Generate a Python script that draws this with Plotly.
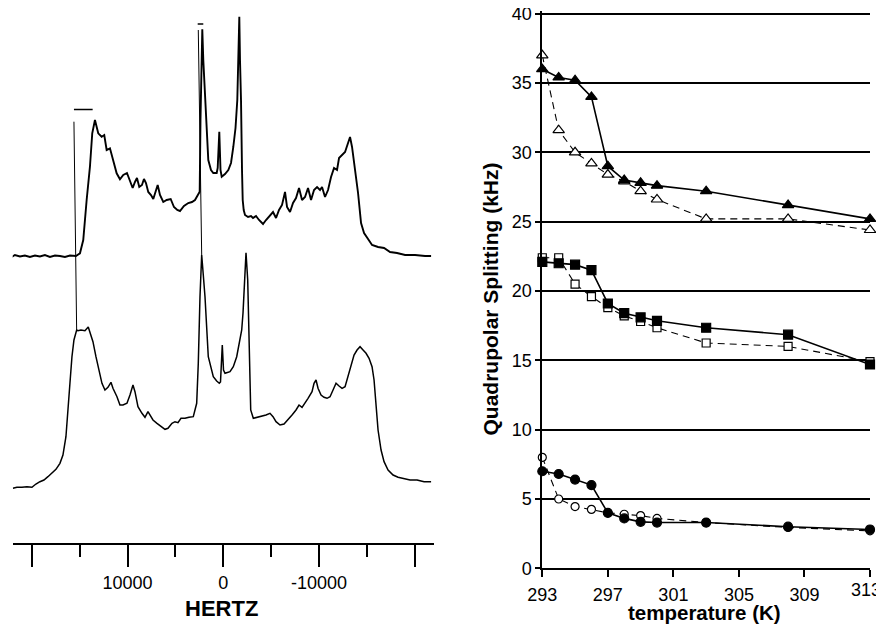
import plotly.graph_objects as go

# ---------------- Left panel: 2H NMR spectra (HERTZ vs arbitrary intensity) ----------------
top_hz = [22100, 21770, 21245, 20722, 20200, 19677, 19155, 18632, 18110, 17587, 17065, 16542, 16020, 15393,
          14975, 14630, 14275, 13930, 13690, 13407, 13063, 12707, 12436, 12185, 11840, 11495, 11140, 10795,
          10450, 10063, 9750, 9468, 9227, 9018, 8778, 8496, 8287, 8078, 7838, 7555, 7315, 7106, 6855, 6615,
          6270, 5915, 5497, 5152, 4807, 4525, 4107, 3658, 3271, 2957, 2696, 2466, 2383, 2278, 2195, 2090,
          1912, 1735, 1568, 1285, 1045, 690, 585, 418, 293, 167, -178, -523, -805, -1045, -1275, -1463,
          -1568, -1672, -1745, -1850, -1954, -2027, -2132, -2268, -2581, -2895, -3104, -3417, -3731, -4149,
          -4462, -4880, -5194, -5507, -5821, -6134, -6448, -6657, -6970, -7284, -7597, -7911, -8224, -8538,
          -8851, -9165, -9478, -9792, -10105, -10314, -10628, -10941, -11255, -11568, -11882, -12091, -12404,
          -12718, -13031, -13240, -13449, -13763, -14076, -14390, -14703, -15121, -15539, -16166, -16793,
          -17420, -18152, -18988, -20033, -21078, -21705]
top_int = [286, 288, 286.5, 287.5, 286, 287.5, 286.5, 288, 286, 287.5, 287, 286, 287.5, 287,
           289.7, 303, 343, 376.3, 409.7, 423, 409.7, 406.3, 408, 393, 394.7, 383, 369.7, 363.7,
           368, 370, 361, 355, 361, 365, 356, 358, 364, 360, 351, 348, 344, 350, 358, 348,
           341, 343, 344, 336, 333, 332, 337, 340, 341, 343, 347, 351.3, 423, 493, 513.7, 483,
           443, 408, 383, 373, 370, 370, 375, 411.3, 373, 366.3, 369, 373, 380, 396, 415, 443,
           483, 526.3, 483, 443, 373, 343, 333, 328, 326, 327, 325, 327, 323, 319,
           323, 327, 331, 325, 333, 338, 351, 336, 331, 340, 345, 355, 343, 346,
           355, 343, 353, 356, 353, 356, 346, 353, 366, 375, 373, 385, 388,
           391, 400, 406, 396, 373, 350, 320, 310, 304, 298, 296, 295,
           291, 290, 288, 288, 287, 287]

bot_hz = [21976, 21558, 21036, 20513, 19991, 19573, 19155, 18737, 18319, 17901, 17483, 17065, 16751, 16438,
          16229, 16020, 15811, 15602, 15320, 15184, 14870, 14452, 14108, 13930, 13616, 13303, 12989, 12676,
          12362, 12049, 11735, 11526, 11108, 10795, 10481, 10063, 9750, 9436, 9227, 8914, 8496, 8182, 7869,
          7660, 7346, 6928, 6510, 6092, 5779, 5361, 5047, 4734, 4420, 4002, 3584, 3135, 2780, 2613, 2435,
          2257, 2090, 1912, 1568, 1045, 690, 418, 293, 105, -21, -178, -700, -1045, -1400, -1641, -1923,
          -2059, -2195, -2372, -2550, -2717, -2863, -3135, -3626, -4044, -4462, -4880, -5194, -5507, -5925,
          -6343, -6761, -7179, -7597, -7911, -8224, -8538, -8851, -9269, -9478, -9687, -9896, -10210, -10523,
          -10837, -11150, -11464, -11777, -12091, -12404, -12718, -13031, -13345, -13658, -13972, -14285,
          -14599, -14912, -15226, -15539, -15748, -15957, -16166, -16480, -16793, -17211, -17734, -18256,
          -18779, -19510, -20242, -20973, -21705]
bot_int = [54.7, 55.7, 55.7, 56.3, 55.7, 59, 61.3, 63, 66.3, 70.3, 73.7, 79.7, 88, 106.3,
           129.7, 159.7, 186.3, 203, 213, 212.3, 213, 212.3, 216, 211.3, 201.3, 186.3, 173, 159.7,
           153, 155.7, 160.7, 154.7, 146.3, 138, 138, 139.7, 148, 158, 151.3, 136.3, 129.7, 125.7, 131.3,
           128, 123, 119.7, 116.3, 113.7, 114.7, 119.7, 121.3, 120.3, 124.7, 124.7, 125.7, 126.3, 139.7, 179.7, 246.3,
           288, 268, 246.3, 186.3, 166.3, 162, 159.7, 161, 198, 173, 169.7, 171.3, 176.3, 186.3, 198, 213,
           230, 253, 290.3, 263, 180, 133, 124.7, 125.7, 127, 128, 129.7, 126.3, 121.3, 118,
           119, 123, 128, 133, 138, 135.7, 139.7, 144.7, 151.3, 159.7, 163, 154.7, 148, 145.7,
           144.7, 146.3, 153, 159.7, 157, 154.7, 156.3, 166.3, 178, 188, 193, 196.3,
           193, 189.7, 184.7, 176.3, 163, 136.3, 113, 93, 81.3, 73, 68, 65.7,
           64.7, 63, 63, 61.3, 61.3]

# thin off-scale spikes and their clipping bars
spike_hz = [15602, 15320, None, 2613, 2257]
spike_int = [421.3, 213, None, 513, 288]
bar_hz = [15602, 13648, None, 2675, 2090]
bar_int = [433.5, 433.5, None, 519, 519]

hz_tickvals = [20000, 10000, 0, -10000, -20000]
hz_ticktext = ["", "10000", "0", "-10000", ""]
hz_minor = [15000, 5000, -5000, -15000]

# ---------------- Right panel: quadrupolar splitting vs temperature ----------------
temperature = [293, 294, 295, 296, 297, 298, 299, 300, 303, 308, 313]
tri_filled = [36.0, 35.4, 35.2, 34.0, 29.0, 28.0, 27.8, 27.6, 27.2, 26.2, 25.2]
tri_open = [37.0, 31.6, 30.0, 29.2, 28.4, 27.9, 27.2, 26.6, 25.2, 25.2, 24.4]
sq_filled = [22.1, 22.0, 21.9, 21.5, 19.1, 18.4, 18.1, 17.85, 17.35, 16.85, 14.7]
sq_open = [22.4, 22.4, 20.5, 19.6, 18.8, 18.2, 17.8, 17.35, 16.25, 16.0, 14.9]
circ_filled = [7.0, 6.8, 6.4, 6.0, 4.0, 3.6, 3.35, 3.3, 3.3, 3.0, 2.8]
circ_open = [8.0, 5.0, 4.45, 4.25, 4.0, 3.9, 3.8, 3.6, 3.3, 2.95, 2.7]
temp_ticks = [293, 297, 301, 305, 309, 313]
temp_ticktext = ["293", "297", "301", "305", "309", ""]   # last label drawn separately, nudged left
last_temp_label = "313"
split_ticks = [0, 5, 10, 15, 20, 25, 30, 35, 40]

FONT = "Liberation Sans, Arial, sans-serif"
OFF = 8                      # the page body adds an 8px margin around the figure
W, H = 884 - OFF, 624 - OFF  # figure fills the rest of the window


def fx(px):  # window pixel -> paper fraction (x)
    return (px - OFF) / W


def fy(py):  # window pixel -> paper fraction (y, from bottom)
    return (H - (py - OFF)) / H


# y scale of right panel: 0 at 568.3 px, 40 at 13.7 px; extend range a little so the 40 gridline is drawn
Y_TOP = 40.2
PX_PER_UNIT = (568.3 - 13.7) / 40
top_px = 568.3 - Y_TOP * PX_PER_UNIT

fig = go.Figure()

# spectra
fig.add_trace(go.Scatter(x=top_hz, y=top_int, mode="lines", line=dict(color="black", width=1.9),
                         xaxis="x", yaxis="y", showlegend=False, hoverinfo="skip"))
fig.add_trace(go.Scatter(x=bot_hz, y=bot_int, mode="lines", line=dict(color="black", width=1.5),
                         xaxis="x", yaxis="y", showlegend=False, hoverinfo="skip"))
fig.add_trace(go.Scatter(x=spike_hz, y=spike_int, mode="lines", line=dict(color="black", width=1),
                         xaxis="x", yaxis="y", showlegend=False, hoverinfo="skip", connectgaps=False))
fig.add_trace(go.Scatter(x=bar_hz, y=bar_int, mode="lines", line=dict(color="black", width=1.5),
                         xaxis="x", yaxis="y", showlegend=False, hoverinfo="skip", connectgaps=False))


def series(y, symbol, filled, dashed, size):
    fig.add_trace(go.Scatter(
        x=temperature, y=y, mode="lines+markers", xaxis="x2", yaxis="y2", showlegend=False,
        cliponaxis=False,
        line=dict(color="black", width=1.6 if not dashed else 1.1, dash="7px,5px" if dashed else "solid"),
        marker=dict(symbol=symbol, size=size, color="black" if filled else "white",
                    line=dict(color="black", width=1.2))))


series(tri_open, "triangle-up", False, True, 10)
series(sq_open, "square", False, True, 8)
series(circ_open, "circle", False, True, 8)
series(tri_filled, "triangle-up", True, False, 10)
series(sq_filled, "square", True, False, 9)
series(circ_filled, "circle", True, False, 9)

fig.update_layout(
    width=W, height=H, autosize=False,
    margin=dict(l=0, r=0, t=0, b=0, pad=0, autoexpand=False),
    paper_bgcolor="white", plot_bgcolor="white",
    font=dict(family=FONT, color="black", size=18),
    xaxis=dict(domain=[fx(12.7), fx(433.9)], range=[22000, -22000], anchor="y", automargin=False,
               showline=True, linecolor="black", linewidth=2, showgrid=False, zeroline=False,
               tickmode="array", tickvals=hz_tickvals, ticktext=hz_ticktext,
               ticks="outside", ticklen=22, tickwidth=2, tickcolor="black",
               tickfont=dict(size=18, family=FONT), ticklabeloverflow="allow",
               minor=dict(tickmode="array", tickvals=hz_minor, ticks="outside", ticklen=12,
                          tickwidth=2, tickcolor="black", showgrid=False)),
    yaxis=dict(domain=[fy(543), 1.0], range=[0, 543 - OFF], anchor="x", visible=False, automargin=False),
    xaxis2=dict(domain=[fx(542.3), fx(870)], range=[293, 313], anchor="y2", automargin=False,
                showline=True, linecolor="black", linewidth=2, showgrid=False, zeroline=False,
                tickmode="array", tickvals=temp_ticks, ticktext=temp_ticktext,
                ticks="outside", ticklen=7, tickwidth=1.5, ticklabelstandoff=2,
                tickcolor="black", tickfont=dict(size=18, family=FONT), ticklabeloverflow="allow"),
    yaxis2=dict(domain=[fy(568.3), fy(top_px)], range=[0, Y_TOP], anchor="x2", automargin=False,
                showline=True, linecolor="black", linewidth=2, zeroline=False,
                showgrid=True, gridcolor="black", gridwidth=1.6,
                tickmode="array", tickvals=split_ticks, ticks="outside", ticklen=5, tickwidth=1.5,
                tickcolor="black", tickfont=dict(size=18, family=FONT), ticklabeloverflow="allow"),
    annotations=[
        dict(text="<b>HERTZ</b>", x=fx(221.7), y=fy(608), xref="paper", yref="paper",
             showarrow=False, xanchor="center", yanchor="middle", font=dict(size=22, family=FONT)),
        dict(text="<b>temperature (K)</b>", x=fx(704.7), y=fy(612.5), xref="paper", yref="paper",
             showarrow=False, xanchor="center", yanchor="middle", font=dict(size=20.5, family=FONT)),
        dict(text="<b>Quadrupolar Splitting (kHz)</b>", x=fx(490), y=fy(299.5),
             xref="paper", yref="paper", showarrow=False, textangle=-90,
             xanchor="center", yanchor="middle", font=dict(size=21, family=FONT)),
        dict(text=last_temp_label, x=fx(866), y=fy(589.5), xref="paper", yref="paper",
             showarrow=False, xanchor="center", yanchor="middle", font=dict(size=18, family=FONT)),
    ],
)

fig.write_html("out.html")
